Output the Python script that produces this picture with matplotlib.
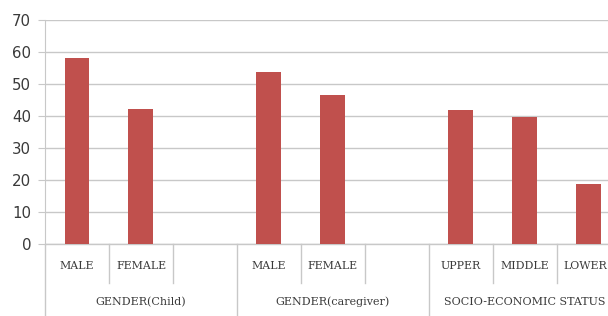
import matplotlib
matplotlib.use("Agg")
import matplotlib.pyplot as plt
import matplotlib.transforms as mtransforms

categories = ["MALE", "FEMALE", "", "MALE", "FEMALE", "", "UPPER", "MIDDLE", "LOWER"]
values = [58.2, 42.1, None, 53.8, 46.6, None, 42.0, 39.6, 18.7]
groups = ["GENDER(Child)", "GENDER(caregiver)", "SOCIO-ECONOMIC STATUS"]
yticks = [0, 10, 20, 30, 40, 50, 60, 70]

bar_color = "#c0504d"
grid_color = "#c8c8c8"
text_color = "#3a3a3a"

fig = plt.figure(figsize=(6.08, 3.16), dpi=100)
ax = fig.add_axes([45/608, (316-244.3)/316, 1 - 45/608, (244.3-20)/316])

xs = [i for i, v in enumerate(values) if v is not None]
vs = [v for v in values if v is not None]
ax.bar(xs, vs, width=0.39, color=bar_color, zorder=3)

ax.set_xlim(-0.5, 8.3)
ax.set_ylim(0, 70)
ax.set_yticks(yticks)
ax.set_yticklabels([str(t) for t in yticks], fontsize=10.8, color=text_color)
ax.yaxis.grid(True, color=grid_color, linewidth=1.0, zorder=0)
ax.axhline(0, color=grid_color, linewidth=1.0, zorder=1, clip_on=False)
ax.tick_params(axis="y", length=5, color=grid_color, pad=5)
ax.set_xticks([])
for s in ["top", "right", "bottom"]:
    ax.spines[s].set_visible(False)
ax.spines["left"].set_color(grid_color)
ax.spines["left"].set_bounds(0, 70)

trans = mtransforms.blended_transform_factory(ax.transData, fig.transFigure)
y0 = (316 - 244.3) / 316
y_short = (316 - 283) / 316
# category separators
for i in range(len(categories)):
    xb = i - 0.5
    if i % 3 == 0:
        ax.plot([xb, xb], [y0, 0], transform=trans, color=grid_color, lw=1, clip_on=False)
    else:
        ax.plot([xb, xb], [y0, y_short], transform=trans, color=grid_color, lw=1, clip_on=False)
ax.plot([8.5, 8.5], [y0, y_short], transform=trans, color=grid_color, lw=1, clip_on=False)

for i, c in enumerate(categories):
    if c:
        xi = i - 0.06 if i == len(categories) - 1 else i
        ax.text(xi, (316 - 266) / 316, c, transform=trans, ha="center", va="center",
                fontsize=7.9, family="DejaVu Serif", color=text_color)

for g, name in enumerate(groups):
    ax.text(g * 3 + 1, (316 - 302) / 316, name, transform=trans, ha="center", va="center",
            fontsize=8.0, family="DejaVu Serif", color=text_color)

fig.savefig("out.png", dpi=100)
